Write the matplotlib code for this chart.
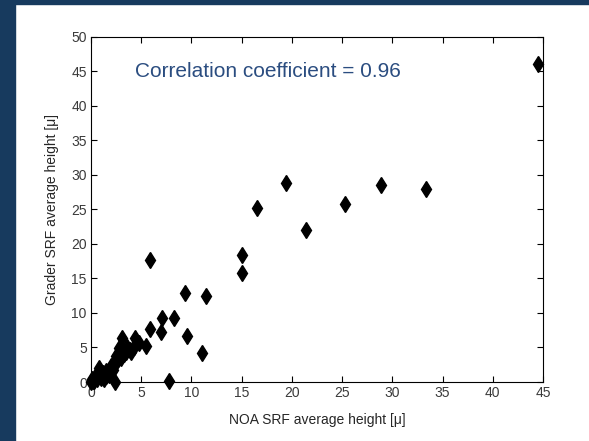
import matplotlib
matplotlib.use("Agg")
import matplotlib.pyplot as plt
from matplotlib.patches import Rectangle

plt.rcParams['font.family'] = ['Liberation Sans', 'DejaVu Sans']

# NOA SRF average height (x) vs Grader SRF average height (y)
noa = [44.5, 33.4, 28.9, 25.3, 19.4, 16.5, 21.4, 15.0, 15.05, 5.9, 9.4, 11.4,
       7.1, 8.3, 5.9, 7.0, 9.6, 11.1, 7.8, 3.1, 4.4, 5.45, 4.8, 3.9, 3.45, 2.8,
       2.45, 2.6, 1.95, 1.45, 0.8, 0.5, 0.0, 0.1, 2.4, 1.3, 1.8, 0.3, 1.0, 1.2,
       1.7, 2.1, 2.2, 3.0, 3.3, 3.6, 4.0, 4.3, 2.7, 0.6, 0.2, 0.9, 1.5, 2.3]
grader = [46.0, 27.9, 28.5, 25.7, 28.8, 25.2, 22.0, 18.4, 15.8, 17.6, 12.9, 12.5,
          9.2, 9.2, 7.6, 7.3, 6.65, 4.2, 0.1, 6.3, 6.3, 5.2, 5.6, 4.6, 4.4, 4.9,
          3.7, 3.0, 2.3, 1.6, 2.0, 1.0, 0.0, 0.5, 0.0, 0.5, 1.0, 0.2, 0.6, 1.3,
          1.3, 2.2, 1.8, 3.5, 4.0, 5.0, 4.3, 5.0, 3.3, 0.4, 0.1, 1.1, 0.8, 2.8]

x_ticks = list(range(0, 50, 5))
y_ticks = list(range(0, 55, 5))
corr_text = "Correlation coefficient = 0.96"

fig = plt.figure(figsize=(5.89, 4.41), dpi=100)
# dark blue frame strips
fig.patches.append(Rectangle((0, 0), 15/589, 1, transform=fig.transFigure,
                             color='#173a5e', zorder=-10))
fig.patches.append(Rectangle((0, 1 - 4/441), 1, 4/441, transform=fig.transFigure,
                             color='#173a5e', zorder=-10))

ax = fig.add_axes([91/589, 59/441, 452/589, 345.5/441])
ax.plot(noa, grader, linestyle='none', marker='d', markersize=8.5,
        color='black', clip_on=False)
ax.set_xlim(0, 45)
ax.set_ylim(0, 50)
ax.set_xticks(x_ticks)
ax.set_yticks(y_ticks)
ax.tick_params(direction='in', top=True, right=True, length=4, width=0.8,
               labelsize=10, labelcolor='#3a3a3a', pad=3)
for s in ax.spines.values():
    s.set_linewidth(0.8)
ax.set_xlabel("NOA SRF average height [\u03bc]", fontsize=10, color='#262626', labelpad=9)
ax.set_ylabel("Grader SRF average height [\u03bc]", fontsize=10, color='#262626', labelpad=9)
ax.text(4.4, 44.9, corr_text, fontsize=15, color='#2b4d80', va='center', ha='left')

fig.savefig("out.png", dpi=100)
